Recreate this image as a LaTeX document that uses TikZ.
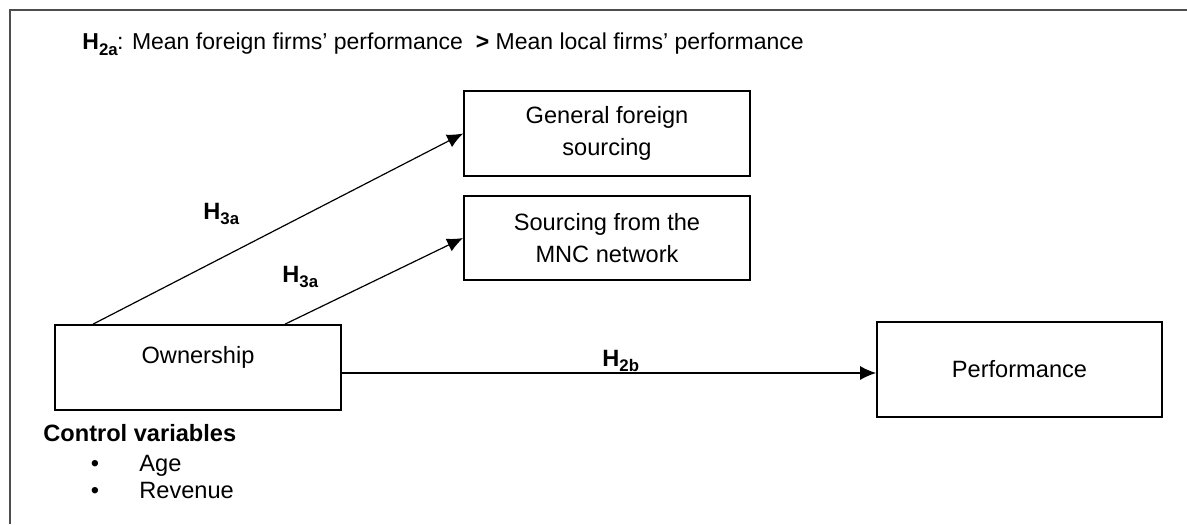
\documentclass[tikz,border=0pt]{standalone}
\usepackage{fontspec}
\setmainfont{Liberation Sans}
\usetikzlibrary{arrows.meta}
\tikzset{>={Latex[length=8pt,width=7pt]}}
\definecolor{framegray}{RGB}{77,77,77}
\newcommand{\hsub}[1]{\raisebox{-0.45ex}{\fontsize{8.4}{10}\selectfont #1}}
\tikzstyle{varbox}=[draw,line width=0.9pt,align=center,inner sep=0pt]
\tikzstyle{hyp}=[anchor=base west,inner sep=0pt,font=\fontsize{11.8}{16}\selectfont\bfseries]
\tikzstyle{plain}=[anchor=base west,inner sep=0pt]
\tikzstyle{link}=[->,line width=0.6pt]

\begin{document}
\begin{tikzpicture}[x=0.5pt,y=-0.5pt,font=\fontsize{11.8}{16}\selectfont]
  \useasboundingbox (0,0) rectangle (1187,524);
  \draw[framegray,line width=1pt] (9.5,524) -- (9.5,10.5) -- (1187,10.5);

  \node[plain,font=\fontsize{11.5}{16}\selectfont] (h2a) at (82,50) {\textbf{H\hsub{2a}}\kern-0.3pt: Mean foreign firms’ performance\ \ \textbf{>} Mean local firms’ performance};

  \node[varbox,minimum width=143pt,minimum height=42.5pt] (gen) at (607,133.5) {General foreign\\sourcing};
  \node[varbox,minimum width=143pt,minimum height=42pt] (mnc) at (607,238) {Sourcing from the\\MNC network};
  \node[varbox,minimum width=143pt,minimum height=42.5pt,text depth=13pt] (own) at (198,367.5) {Ownership};
  \node[varbox,minimum width=142.5pt,minimum height=47.5pt] (perf) at (1019.5,369.5) {Performance};

  \draw[link] ([xshift=19.5pt]own.north west) -- (gen.west);
  \draw[link] ([xshift=115.5pt]own.north west) -- (mnc.west);
  \draw[link] ([yshift=-2.75pt]own.east) -- ([yshift=-2.75pt]own.east -| perf.west);

  \node[hyp] (h3g) at (203,219) {H\hsub{3a}};
  \node[hyp] (h3m) at (282,282) {H\hsub{3a}};
  \node[hyp] (h2b) at (602,366) {H\hsub{2b}};

  %control variables
  \node[plain,font=\fontsize{11.8}{16}\selectfont\bfseries] (ctrl) at (43,441) {Control variables};
  \node[anchor=base,inner sep=0pt] (b1) at (95,471) {•};
  \node[plain] (age) at (139,471) {Age};
  \node[anchor=base,inner sep=0pt] (b2) at (95,498) {•};
  \node[plain] (rev) at (139,498) {Revenue};
\end{tikzpicture}
\end{document}
